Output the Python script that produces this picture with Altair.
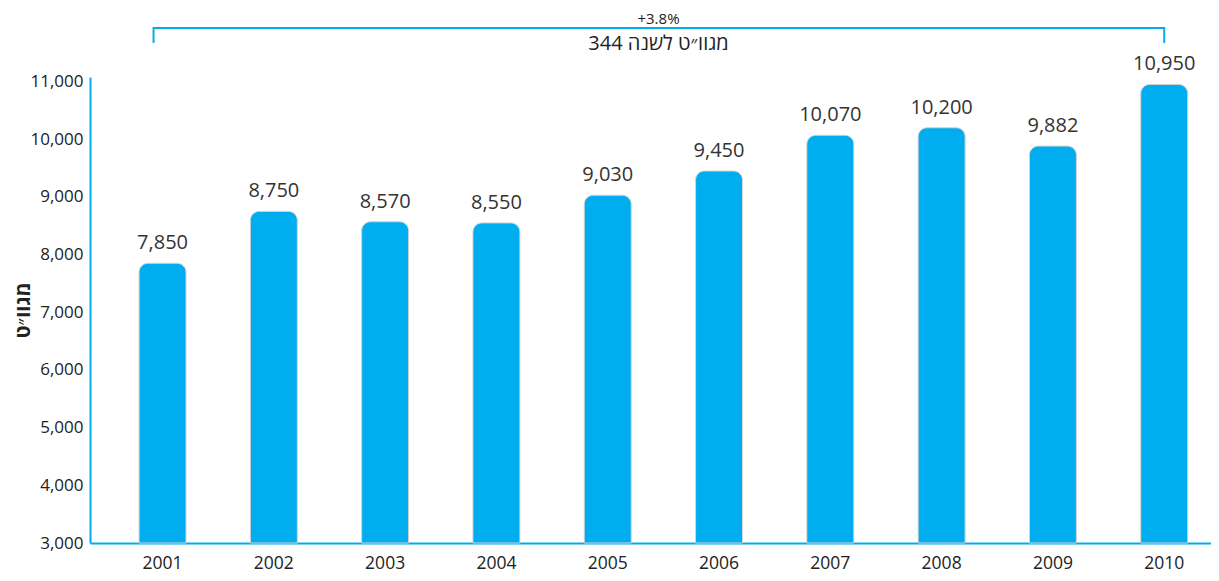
import altair as alt
import pandas as pd

years = ["2001", "2002", "2003", "2004", "2005", "2006", "2007", "2008", "2009", "2010"]
values = [7850, 8750, 8570, 8550, 9030, 9450, 10070, 10200, 9882, 10950]
y_ticks = [3000, 4000, 5000, 6000, 7000, 8000, 9000, 10000, 11000]
growth_label = "+3.8%"
annual_label = "344 מגוו״ט לשנה"
y_title = "מגוו״ט"

df = pd.DataFrame({"year": years, "value": values})
ann = pd.DataFrame({"growth": [growth_label], "annual": [annual_label]})

FONT = "Open Sans"
BLUE = "#00AEEF"
W, H = 1121, 466

x_enc = alt.X(
    "year:N",
    sort=years,
    scale=alt.Scale(domain=years, paddingInner=0.578, paddingOuter=0.325, align=0.678),
    axis=alt.Axis(
        title=None, labelAngle=0, ticks=False, domainColor=BLUE, domainWidth=2,
        labelFontSize=17.5, labelColor="#222", labelPadding=11, labelFont=FONT,
    ),
)
y_scale = alt.Scale(domain=[3000, 11080], nice=False, zero=False)
y_enc = alt.Y(
    "value:Q",
    scale=y_scale,
    axis=alt.Axis(
        values=y_ticks, format=",d", grid=False, ticks=False, domainColor=BLUE, domainWidth=2,
        labelFontSize=17, labelColor="#222", labelPadding=7, labelFont=FONT,
        title=y_title, titleFontSize=20, titleFontWeight="bold", titleFont=FONT,
        titleX=-67, titleY=H / 2, titleAngle=270, titleAlign="center",
        titleBaseline="middle", titleColor="#222",
    ),
)

base = alt.Chart(df)

bars = base.mark_bar(
    color=BLUE, stroke="#d4d4d4", strokeWidth=1,
    cornerRadiusTopLeft=9, cornerRadiusTopRight=9,
).encode(x=x_enc, y=y_enc, y2=alt.datum(3000))

labels = base.mark_text(
    baseline="alphabetic", dy=-14, fontSize=20, color="#333", font=FONT
).encode(
    x=alt.X("year:N", sort=years),
    y=alt.Y("value:Q"),
    text=alt.Text("value:Q", format=",d"),
)

annb = alt.Chart(ann)
bracket = annb.mark_rule(color=BLUE, strokeWidth=2, xOffset=-9).encode(
    x=alt.datum("2001"), x2=alt.datum("2010"), y=alt.value(-49)
)
tick_l = annb.mark_rule(color=BLUE, strokeWidth=2, xOffset=-9).encode(
    x=alt.datum("2001"), y=alt.value(-50), y2=alt.value(-34)
)
tick_r = annb.mark_rule(color=BLUE, strokeWidth=2).encode(
    x=alt.datum("2010"), y=alt.value(-50), y2=alt.value(-34)
)
growth = annb.mark_text(fontSize=15, color="#222", font=FONT, baseline="middle", dx=8).encode(
    x=alt.value(W / 2), y=alt.value(-58), text="growth:N"
)
annual = annb.mark_text(fontSize=20, color="#222", font=FONT, baseline="middle", dir="rtl", dx=8).encode(
    x=alt.value(W / 2), y=alt.value(-33), text="annual:N"
)

chart = alt.layer(bars, labels, bracket, tick_l, tick_r, growth, annual).properties(
    width=W,
    height=H,
    autosize=alt.AutoSizeParams(type="none"),
    padding={"left": 82, "top": 69, "right": 0, "bottom": 30},
).configure_view(stroke=None)

chart.save("out.html", embed_options={"renderer": "svg", "actions": False})
